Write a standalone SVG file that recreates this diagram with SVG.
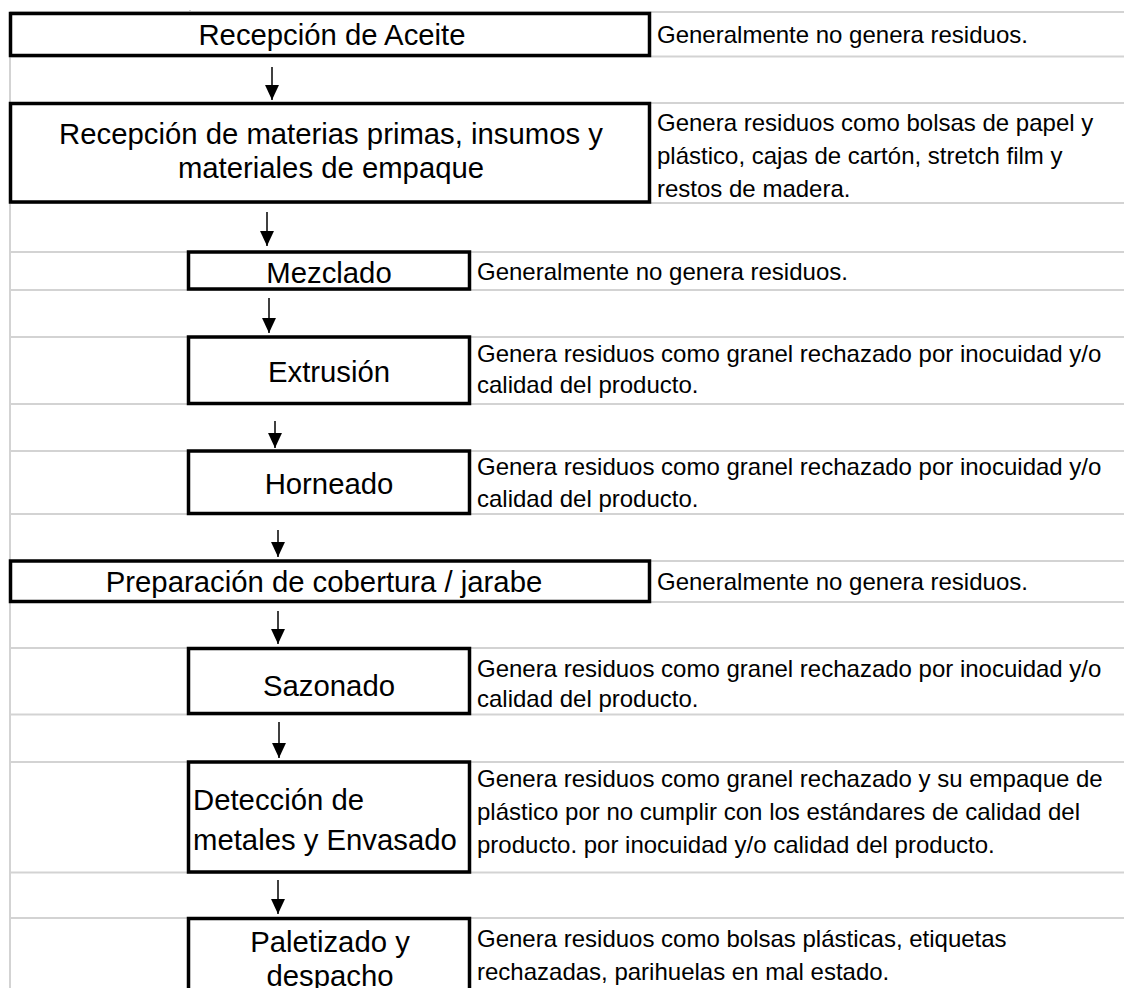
<svg xmlns="http://www.w3.org/2000/svg" width="1124" height="988" viewBox="0 0 1124 988">
<defs>
<marker id="ah" viewBox="0 0 14 14" refX="14" refY="7" markerWidth="15" markerHeight="15" markerUnits="userSpaceOnUse" orient="auto">
<path d="M0,0.5 L14,7 L0,13.5 z" fill="#000"/>
</marker>
<style>
.grid line{stroke:#d3d3d3;stroke-width:2}
.box{fill:#fff;stroke:#000;stroke-width:3.5}
.bt{font-family:"Liberation Sans",Arial,sans-serif;font-size:29.3px;fill:#000}
.rt{font-family:"Liberation Sans",Arial,sans-serif;font-size:24px;fill:#000}
.c{text-anchor:middle}
.conn line{stroke:#000;stroke-width:1.5;marker-end:url(#ah)}
</style>
</defs>
<rect width="1124" height="988" fill="#fff"/>
<g class="grid">
<line x1="10" y1="12" x2="1124" y2="12"/>
<line x1="10" y1="56.5" x2="1124" y2="56.5"/>
<line x1="10" y1="103" x2="1124" y2="103"/>
<line x1="10" y1="203" x2="1124" y2="203"/>
<line x1="10" y1="252" x2="1124" y2="252"/>
<line x1="10" y1="290" x2="1124" y2="290"/>
<line x1="10" y1="337" x2="1124" y2="337"/>
<line x1="10" y1="404" x2="1124" y2="404"/>
<line x1="10" y1="451" x2="1124" y2="451"/>
<line x1="10" y1="514" x2="1124" y2="514"/>
<line x1="10" y1="561" x2="1124" y2="561"/>
<line x1="10" y1="602" x2="1124" y2="602"/>
<line x1="10" y1="648" x2="1124" y2="648"/>
<line x1="10" y1="714.5" x2="1124" y2="714.5"/>
<line x1="10" y1="762" x2="1124" y2="762"/>
<line x1="10" y1="872.5" x2="1124" y2="872.5"/>
<line x1="10" y1="918" x2="1124" y2="918"/>
<line x1="10" y1="12" x2="10" y2="988"/>
<line x1="190" y1="10" x2="190" y2="13"/>
</g>
<g class="conn">
<line x1="272" y1="67" x2="272" y2="100"/>
<line x1="267" y1="212" x2="267" y2="246"/>
<line x1="269" y1="298" x2="269" y2="333"/>
<line x1="275" y1="421" x2="275" y2="448"/>
<line x1="278" y1="530" x2="278" y2="557"/>
<line x1="278" y1="611" x2="278" y2="644"/>
<line x1="279" y1="722" x2="279" y2="758"/>
<line x1="278" y1="880" x2="278" y2="914"/>
</g>
<g id="n1">
<rect class="box" x="10.5" y="13.5" width="639" height="42"/>
<text class="bt c" x="332" y="45">Recepción de Aceite</text>
<text class="rt" x="657" y="43">Generalmente no genera residuos.</text>
</g>
<g id="n2">
<rect class="box" x="10.5" y="103.5" width="639" height="98.5"/>
<text class="bt c" x="331" y="144">Recepción de materias primas, insumos y</text>
<text class="bt c" x="331" y="178">materiales de empaque</text>
<text class="rt" x="657" y="131">Genera residuos como bolsas de papel y</text>
<text class="rt" x="657" y="164">plástico, cajas de cartón, stretch film y</text>
<text class="rt" x="657" y="197">restos de madera.</text>
</g>
<g id="n3">
<rect class="box" x="188.5" y="252" width="281" height="37"/>
<text class="bt c" x="329" y="283">Mezclado</text>
<text class="rt" x="477" y="280">Generalmente no genera residuos.</text>
</g>
<g id="n4">
<rect class="box" x="188.5" y="337" width="281" height="66.5"/>
<text class="bt c" x="329" y="382">Extrusión</text>
<text class="rt" x="477" y="362">Genera residuos como granel rechazado por inocuidad y/o</text>
<text class="rt" x="477" y="393">calidad del producto.</text>
</g>
<g id="n5">
<rect class="box" x="188.5" y="451" width="281" height="62.5"/>
<text class="bt c" x="329" y="494">Horneado</text>
<text class="rt" x="477" y="475">Genera residuos como granel rechazado por inocuidad y/o</text>
<text class="rt" x="477" y="507">calidad del producto.</text>
</g>
<g id="n6">
<rect class="box" x="10.5" y="561" width="639" height="40.5"/>
<text class="bt c" x="324" y="592">Preparación de cobertura / jarabe</text>
<text class="rt" x="657" y="590">Generalmente no genera residuos.</text>
</g>
<g id="n7">
<rect class="box" x="188.5" y="648.5" width="281" height="65"/>
<text class="bt c" x="329" y="696">Sazonado</text>
<text class="rt" x="477" y="677">Genera residuos como granel rechazado por inocuidad y/o</text>
<text class="rt" x="477" y="707">calidad del producto.</text>
</g>
<g id="n8">
<rect class="box" x="188.5" y="762" width="281" height="110"/>
<text class="bt" x="193" y="810">Detección de</text>
<text class="bt" x="193" y="850">metales y Envasado</text>
<text class="rt" x="477" y="787">Genera residuos como granel rechazado y su empaque de</text>
<text class="rt" x="477" y="820">plástico por no cumplir con los estándares de calidad del</text>
<text class="rt" x="477" y="853">producto. por inocuidad y/o calidad del producto.</text>
</g>
<g id="n9">
<rect class="box" x="188.5" y="918.5" width="281" height="90"/>
<text class="bt c" x="330" y="952">Paletizado y</text>
<text class="bt c" x="330" y="986">despacho</text>
<text class="rt" x="477" y="947">Genera residuos como bolsas plásticas, etiquetas</text>
<text class="rt" x="477" y="980">rechazadas, parihuelas en mal estado.</text>
</g>
</svg>
